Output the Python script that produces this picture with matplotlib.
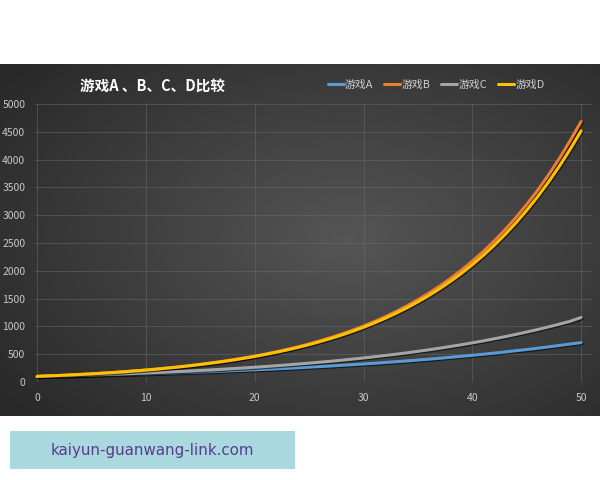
import numpy as np
import matplotlib
matplotlib.use("Agg")
import matplotlib.pyplot as plt
import matplotlib.patheffects as pe

plt.rcParams['font.family'] = ['Noto Sans CJK SC', 'DejaVu Sans']

title = "游戏A 、B、C、D比较"
series_names = ["游戏A", "游戏B", "游戏C", "游戏D"]
x_values = list(range(0, 51))
game_a = [100, 104, 108, 112, 117, 122, 127, 132, 137, 142, 148, 154, 160, 167, 173, 180, 187, 195, 203, 211,
          219, 228, 237, 246, 256, 267, 277, 288, 300, 312, 324, 337, 351, 365, 379, 395, 410, 427, 444, 462,
          480, 499, 519, 540, 562, 584, 607, 632, 657, 683, 709]
game_b = [100, 108, 117, 126, 136, 147, 159, 171, 185, 200, 216, 233, 252, 272, 294, 317, 343, 370, 400, 432,
          466, 503, 544, 587, 634, 685, 740, 799, 863, 932, 1006, 1087, 1174, 1268, 1369, 1479, 1597, 1725, 1863, 2012,
          2173, 2346, 2534, 2737, 2956, 3192, 3447, 3723, 4021, 4343, 4685]
game_c = [100, 105, 110, 116, 122, 128, 134, 141, 148, 155, 163, 171, 180, 189, 198, 208, 218, 229, 241, 253,
          265, 279, 293, 307, 323, 339, 356, 373, 392, 412, 432, 454, 477, 500, 525, 552, 579, 608, 639, 670,
          704, 739, 776, 815, 856, 899, 943, 991, 1040, 1092, 1160]
game_d = [100, 108, 117, 126, 136, 146, 158, 170, 184, 199, 214, 231, 250, 269, 291, 314, 339, 365, 394, 426,
          459, 496, 535, 577, 623, 672, 726, 783, 845, 912, 984, 1062, 1146, 1237, 1335, 1441, 1555, 1678, 1811, 1954,
          2109, 2276, 2456, 2651, 2861, 3088, 3332, 3596, 3881, 4188, 4515]
y_ticks = [0, 500, 1000, 1500, 2000, 2500, 3000, 3500, 4000, 4500, 5000]
x_ticks = [0, 10, 20, 30, 40, 50]
footer_text = "kaiyun-guanwang-link.com"

colors = ["#5b9bd5", "#ed7d31", "#a5a5a5", "#ffc000"]

fig = plt.figure(figsize=(6, 4.8), dpi=100)
fig.patch.set_facecolor("white")

# dark panel with radial gradient
bg = fig.add_axes([0, 1 - 416 / 480, 1, (416 - 64) / 480])
bg.set_axis_off()
gx, gy = np.meshgrid(np.linspace(0, 1, 300), np.linspace(0, 1, 200))
r = np.sqrt(((gx - 0.58) / 0.75) ** 2 + ((gy - 0.5) / 0.8) ** 2)
r = np.clip(r, 0, 1)
lo = np.array([0x55, 0x55, 0x55]) / 255
hi = np.array([0x27, 0x27, 0x27]) / 255
img = lo[None, None, :] * (1 - r[..., None]) + hi[None, None, :] * r[..., None]
bg.imshow(img, aspect="auto", extent=[0, 1, 0, 1], interpolation="bilinear")
bg.set_xlim(0, 1)
bg.set_ylim(0, 1)

ax = fig.add_axes([35 / 600, 1 - 382 / 480, (592 - 35) / 600, (382 - 104) / 480])
ax.set_facecolor("none")
for i, (name, ys) in enumerate(zip(series_names, [game_a, game_b, game_c, game_d])):
    ax.plot(x_values, ys, color=colors[i], lw=2.2, label=name, solid_capstyle="round",
            path_effects=[pe.SimpleLineShadow(offset=(0.8, -0.8), shadow_color="black", alpha=0.6),
                          pe.Normal()], zorder=3 + i)

ax.set_xlim(-0.2, 51.0)
ax.set_ylim(0, 5000)
ax.set_xticks(x_ticks)
ax.set_yticks(y_ticks)
ax.grid(True, color="#6a6a6a", lw=0.6, alpha=0.6)
for s in ax.spines.values():
    s.set_visible(False)
ax.tick_params(length=0, colors="#c8c8c8", labelsize=7.5)
ax.tick_params(axis="x", pad=8)
ax.tick_params(axis="y", pad=7)

fig.text(153 / 600, 1 - 86 / 480, title, color="white", fontsize=10.5, fontweight="bold",
         ha="center", va="center")

leg = ax.legend(loc="center", bbox_to_anchor=((436 - 35) / 557, (104 - 85) / 278 + 1), ncol=4,
                frameon=False, fontsize=7.8, handlelength=1.5, handletextpad=0.1, columnspacing=1.0,
                labelcolor="#d0d0d0")
for line in leg.get_lines():
    line.set_linewidth(2.2)
    line.set_path_effects([])

# footer box
fig.patches.append(plt.Rectangle((10 / 600, 1 - 469 / 480), 285 / 600, 38 / 480,
                                 transform=fig.transFigure, facecolor="#a9d8df", edgecolor="none"))
fig.text(152 / 600, 1 - 450 / 480, footer_text, color="#5b3a8e", fontsize=10.8,
         ha="center", va="center", family=["DejaVu Sans"])

fig.savefig("out.png", dpi=100)
